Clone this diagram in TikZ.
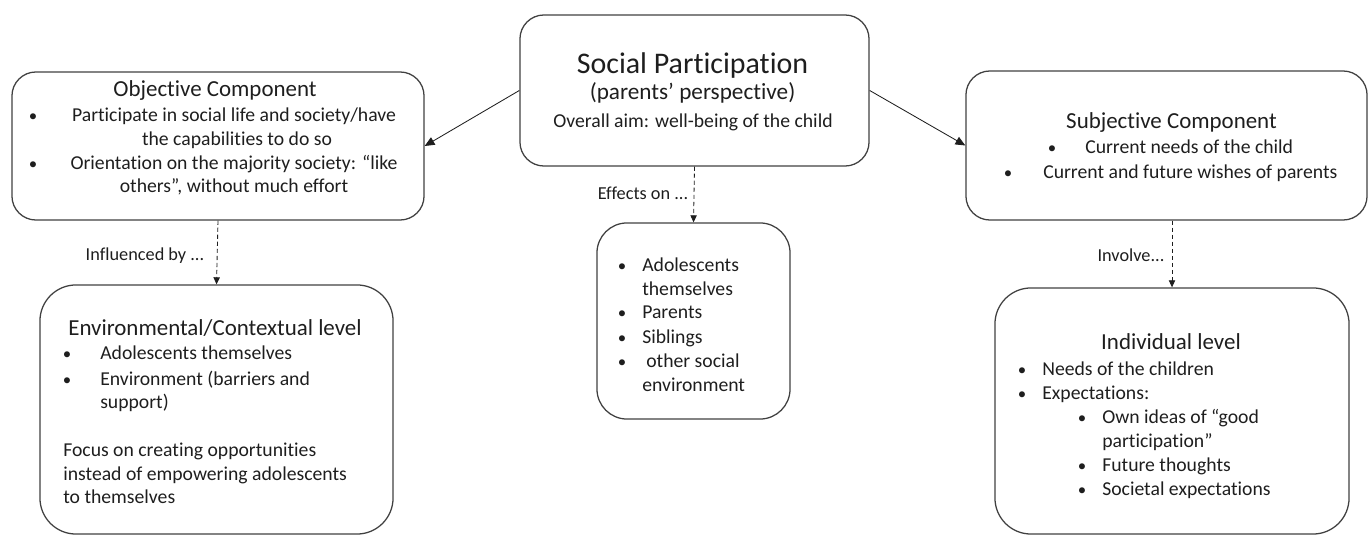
\documentclass[tikz,border=0pt]{standalone}
\usepackage{fontspec}
\setmainfont{Carlito}[Ligatures=NoCommon]
\usetikzlibrary{arrows.meta}
\definecolor{boxline}{HTML}{404040}
\definecolor{ink}{HTML}{1E1E1E}

\begin{document}
\begin{tikzpicture}[x=0.025cm,y=-0.025cm,
		box/.style={draw=boxline,line width=0.9pt,rounded corners=#1,inner sep=0pt},
		txt/.style={anchor=base west,inner sep=0pt,text=ink,font=\fontsize{14}{17}\selectfont},
		ctxt/.style={txt,anchor=base},
		title/.style={ctxt,font=\fontsize{16.3}{19}\selectfont},
		dot/.style={txt,anchor=base,font=\fontsize{12}{14}\selectfont},
		lbl/.style={ctxt,font=\fontsize{13}{15}\selectfont},
		arr/.style={-{Triangle[length=7pt,width=6pt]},line width=0.6pt,draw=ink},
		darr/.style={-{Triangle[length=5pt,width=4.5pt]},line width=0.6pt,draw=ink,dash pattern=on 3pt off 2pt}]
	\useasboundingbox (0,0) rectangle (1369,536);
	%boxes
	\node[box=0.6cm,minimum width=8.725cm,minimum height=3.775cm] (mid) at (694.5,90.5) {};
	\node[box=0.6cm,minimum width=10.3cm,minimum height=3.7cm] (obj) at (218,146) {};
	\node[box=0.6cm,minimum width=10.025cm,minimum height=3.725cm] (subj) at (1166.5,145.5) {};
	\node[box=0.9cm,minimum width=8.825cm,minimum height=6.225cm] (env) at (216.5,409.5) {};
	\node[box=0.75cm,minimum width=4.825cm,minimum height=4.9cm] (eff) at (693.5,321) {};
	\node[box=0.9cm,minimum width=8.85cm,minimum height=6.15cm] (ind) at (1172,411) {};
	%social participation
	\node[ctxt,font=\fontsize{21.3}{25}\selectfont] (m1) at (692.5,74) {Social Participation};
	\node[ctxt,font=\fontsize{16.5}{19}\selectfont] (m2) at (692.5,100) {(parents’ perspective)};
	\node[ctxt] (m3) at (693,128) {Overall aim: well-being of the child};
	%objective component
	\node[title] (o0) at (215,97) {Objective Component};
	\node[dot] (o1b) at (33,122) {•};
	\node[ctxt] (o1) at (234,122) {Participate in social life and society/have};
	\node[ctxt] (o1c) at (237,146) {the capabilities to do so};
	\node[dot] (o2b) at (33,170) {•};
	\node[ctxt] (o2) at (234,170) {Orientation on the majority society: “like};
	\node[ctxt] (o2c) at (234,193) {others”, without much effort};
	%subjective component
	\node[title] (s0) at (1171.5,129) {Subjective Component};
	\node[dot] (s1b) at (1052,154) {•};
	\node[txt] (s1) at (1085,154) {Current needs of the child};
	\node[dot] (s2b) at (1008,179) {•};
	\node[txt] (s2) at (1043,179) {Current and future wishes of parents};
	%environmental level
	\node[title] (e0) at (215,336) {Environmental/Contextual level};
	\node[dot] (e1b) at (67,360) {•};
	\node[txt] (e1) at (100,360) {Adolescents themselves};
	\node[dot] (e2b) at (67,386) {•};
	\node[txt] (e2) at (100,386) {Environment (barriers and};
	\node[txt] (e2c) at (100,409) {support)};
	\node[txt] (e3) at (63,457) {Focus on creating opportunities};
	\node[txt] (e3c) at (63,481) {instead of empowering adolescents};
	\node[txt] (e3d) at (63,504) {to themselves};
	%effects
	\node[dot] (f1b) at (622,272) {•};
	\node[txt] (f1) at (642,272) {Adolescents};
	\node[txt] (f1c) at (642,296) {themselves};
	\node[dot] (f2b) at (622,319) {•};
	\node[txt] (f2) at (642,319) {Parents};
	\node[dot] (f3b) at (622,344) {•};
	\node[txt] (f3) at (642,344) {Siblings};
	\node[dot] (f4b) at (622,368) {•};
	\node[txt] (f4) at (646,368) {other social};
	\node[txt] (f4c) at (642,392) {environment};
	%individual level
	\node[title] (i0) at (1171,350) {Individual level};
	\node[dot] (i1b) at (1022,376) {•};
	\node[txt] (i1) at (1042,376) {Needs of the children};
	\node[dot] (i2b) at (1022,400) {•};
	\node[txt] (i2) at (1042,400) {Expectations:};
	\node[dot] (i3b) at (1082,424) {•};
	\node[txt] (i3) at (1102,424) {Own ideas of “good};
	\node[txt] (i3c) at (1102,448) {participation”};
	\node[dot] (i4b) at (1082,472) {•};
	\node[txt] (i4) at (1102,472) {Future thoughts};
	\node[dot] (i5b) at (1082,496) {•};
	\node[txt] (i5) at (1102,496) {Societal expectations};
	%connectors
	\draw[arr] (mid.west) -- (obj.east);
	\draw[arr] (mid.east) -- (subj.west);
	\draw[darr] (obj.south) -- (env.north);
	\draw[darr] (mid.south) -- (eff.north);
	\draw[darr] (subj.south -| ind.north) -- (ind.north);
	\node[lbl] (l1) at (145,261) {Influenced by ...};
	\node[lbl] (l2) at (643,200) {Effects on ...};
	\node[lbl] (l3) at (1131,262) {Involve...};
\end{tikzpicture}
\end{document}
